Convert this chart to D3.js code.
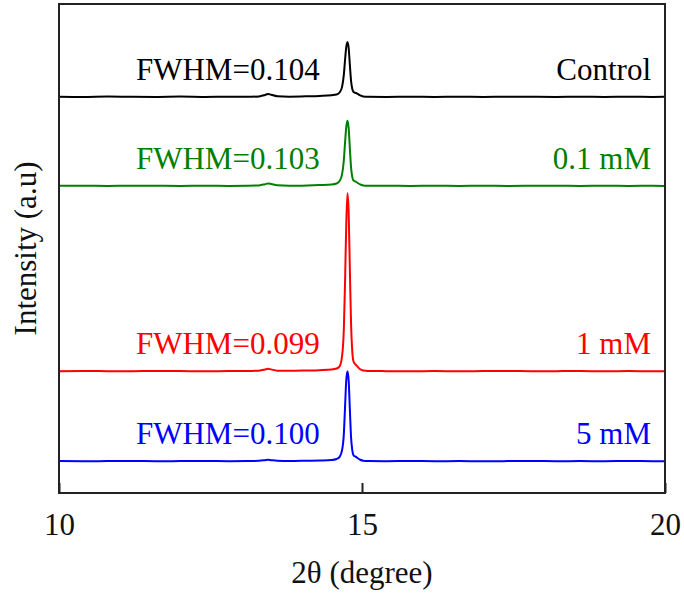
<!DOCTYPE html>
<html>
<head>
<meta charset="utf-8">
<script src="https://cdn.jsdelivr.net/npm/d3@7"></script>
<style>
  body { margin: 0; background: #fff; }
  svg text { font-family: "Liberation Serif", "Times New Roman", serif; }
</style>
</head>
<body>
<div class="root"></div>
<script>
'use strict';

// 2theta positions shared by every pattern
var theta = [10.0, 10.4, 10.8, 11.2, 11.6, 12.0, 12.4, 12.8, 13.1, 13.3, 13.4, 13.45, 13.5, 13.6, 13.8,
  14.1, 14.3, 14.5, 14.58, 14.63, 14.67, 14.70, 14.72, 14.74, 14.76, 14.78, 14.80, 14.82, 14.84, 14.86,
  14.90, 14.93, 14.97, 15.02, 15.1, 15.4, 15.8, 16.2, 16.6, 17.0, 17.4, 17.8, 18.2, 18.6, 19.0, 19.4, 19.8, 20.0];

// intensities above each pattern's baseline (a.u.)
var control = [0.05, 0.0, 0.08, 0.02, 0.0, 0.06, 0.0, 0.05, 0.03, 0.1, 0.4, 0.6, 0.45, 0.15, 0.05,
  0.12, 0.2, 0.35, 0.5, 0.9, 2.0, 4.5, 7.5, 10.2, 11.25, 10.0, 6.5, 3.2, 1.6, 1.0,
  0.8, 0.6, 0.3, 0.1, 0.03, 0.0, 0.05, 0.0, 0.04, 0.0, 0.05, 0.02, 0.0, 0.04, 0.0, 0.03, 0.0, 0.02];
var mM01 = [0.03, 0.05, 0.0, 0.04, 0.02, 0.0, 0.05, 0.0, 0.03, 0.1, 0.35, 0.5, 0.4, 0.12, 0.04,
  0.1, 0.18, 0.3, 0.5, 1.0, 2.3, 5.2, 8.8, 12.0, 13.3, 11.8, 7.6, 3.7, 1.8, 1.1,
  0.85, 0.6, 0.3, 0.1, 0.02, 0.04, 0.0, 0.03, 0.0, 0.05, 0.0, 0.02, 0.04, 0.0, 0.03, 0.0, 0.02, 0.0];
var mM1 = [0.0, 0.04, 0.02, 0.0, 0.05, 0.03, 0.0, 0.04, 0.05, 0.12, 0.35, 0.5, 0.38, 0.12, 0.08,
  0.15, 0.22, 0.35, 0.55, 1.0, 3.0, 8.5, 18.0, 30.0, 36.4, 32.5, 20.5, 9.5, 4.0, 2.0,
  1.3, 0.9, 0.4, 0.15, 0.05, 0.02, 0.0, 0.04, 0.0, 0.03, 0.05, 0.0, 0.02, 0.04, 0.0, 0.03, 0.0, 0.02];
var mM5 = [0.04, 0.0, 0.03, 0.05, 0.0, 0.02, 0.04, 0.0, 0.02, 0.08, 0.22, 0.3, 0.22, 0.08, 0.03,
  0.1, 0.15, 0.25, 0.45, 0.9, 2.2, 5.5, 11.0, 16.5, 18.4, 16.5, 10.5, 4.8, 2.2, 1.2,
  0.9, 0.6, 0.3, 0.1, 0.03, 0.0, 0.04, 0.0, 0.03, 0.0, 0.02, 0.05, 0.0, 0.03, 0.0, 0.04, 0.0, 0.02];

var series = [control, mM01, mM1, mM5];
var offsets = [81.0, 62.8, 24.9, 6.5];
var names = ['Control', '0.1 mM', '1 mM', '5 mM'];
var fwhm = ['0.104', '0.103', '0.099', '0.100'];
var colors = ['#000000', '#008000', '#ff0000', '#0000ff'];
var xTicks = [10, 15, 20];

var width = 684, height = 594;
var margin = { top: 4, right: 19, bottom: 101, left: 59 };

var svg = d3.select('div.root').append('svg')
  .attr('width', width)
  .attr('height', height);

var x = d3.scaleLinear().domain([10, 20]).range([margin.left, width - margin.right]);
var y = d3.scaleLinear().domain([0, 100]).range([height - margin.bottom, margin.top]);

var line = d3.line()
  .x(function (d) { return x(d[0]); })
  .y(function (d) { return y(d[1]); })
  .curve(d3.curveMonotoneX);

series.forEach(function (vals, i) {
  var pts = theta.map(function (t, j) { return [t, vals[j] + offsets[i]]; });

  svg.append('path')
    .attr('d', line(pts))
    .attr('fill', 'none')
    .attr('stroke', colors[i])
    .attr('stroke-width', 2)
    .attr('stroke-linejoin', 'round');

  svg.append('text') //FWHM label, left side
    .attr('x', x(11.27))
    .attr('y', y(offsets[i]) - 17)
    .attr('font-size', 31)
    .attr('fill', colors[i])
    .text('FWHM=' + fwhm[i]);

  svg.append('text') //sample name, right side
    .attr('x', x(19.77))
    .attr('y', y(offsets[i]) - 17)
    .attr('font-size', 31)
    .attr('text-anchor', 'end')
    .attr('fill', colors[i])
    .text(names[i]);
});

// frame
svg.append('rect')
  .attr('x', margin.left)
  .attr('y', margin.top)
  .attr('width', width - margin.left - margin.right)
  .attr('height', height - margin.top - margin.bottom)
  .attr('fill', 'none')
  .attr('stroke', '#222')
  .attr('stroke-width', 2);

var xAxis = d3.axisBottom(x).tickValues(xTicks).tickSize(-10).tickPadding(20);
var gx = svg.append('g')
  .attr('transform', 'translate(0,' + (height - margin.bottom) + ')')
  .call(xAxis);
gx.select('.domain').remove();
gx.selectAll('line').attr('stroke', '#222').attr('stroke-width', 2);
gx.selectAll('text')
  .attr('font-size', 31)
  .attr('font-family', '"Liberation Serif", serif')
  .attr('fill', '#111');

svg.append('text')
  .attr('x', x(15))
  .attr('y', 583)
  .attr('text-anchor', 'middle')
  .attr('font-size', 31)
  .attr('fill', '#111')
  .text('2θ (degree)');

svg.append('text')
  .attr('transform', 'translate(36,' + y(50) + ') rotate(-90)')
  .attr('text-anchor', 'middle')
  .attr('font-size', 31)
  .attr('fill', '#111')
  .text('Intensity (a.u)');
</script>
</body>
</html>
